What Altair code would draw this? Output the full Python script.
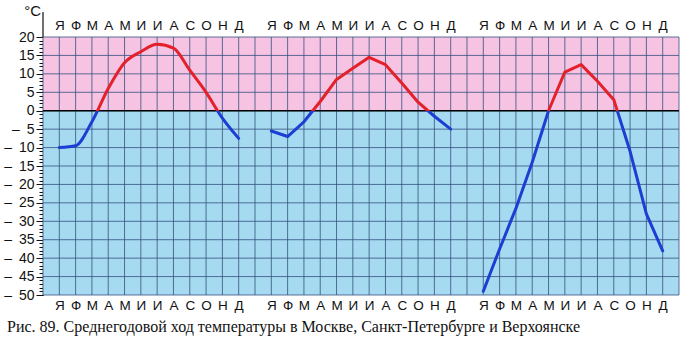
import json
import altair as alt
import pandas as pd

# ---- data ----
months = ["Я", "Ф", "М", "А", "М", "И", "И", "А", "С", "О", "Н", "Д"]
moscow = [-10, -9.5, -3, 6, 13, 16, 18, 17, 11, 5, -2, -7.5]
spb = [-5.5, -7, -3, 2.5, 8.5, 11.5, 14.5, 12.5, 7.5, 2.3, -1.5, -5]
verkh = [-49, -37.5, -26.5, -14, 0, 10.5, 12.5, 8, 3, -11, -28, -38]
cities = ["Москва", "Санкт-Петербург", "Верхоянск"]
series = [moscow, spb, verkh]
offsets = [0, 13, 26]          # grid column where each city's January sits
interp = ["monotone", "linear", "linear"]
x_domain = [-1, 38]
y_domain = [-50, 20]
y_major = list(range(-50, 25, 5))
caption = "Рис. 89. Среднегодовой ход температуры в Москве, Санкт-Петербурге и Верхоянске"
unit = "°C"
minus = "\u2013\u2002"

# ---- styling ----
W, H = 636, 258
PINK, BLUE = "#f6c3e3", "#a6daf1"
RED, DBLUE = "#e4202a", "#1d3ed2"
GRID = "#34507f"
xs = alt.Scale(domain=x_domain, nice=False, zero=False)
ys = alt.Scale(domain=y_domain, nice=False, zero=False)

month_pos = [o + i for o in offsets for i in range(12)]
label_expr = json.dumps(months) + "[datum.value % 13]"


def month_axis(orient, pad):
    return alt.Axis(orient=orient, values=month_pos, labelExpr=label_expr,
                    ticks=False, domain=False, grid=False, title=None,
                    labelFont="Liberation Sans", labelFontSize=13.5,
                    labelColor="#111", labelPadding=pad,
                    labelOverlap=False, labelFlush=False)


bands = pd.DataFrame({"x0": [x_domain[0]] * 2, "x1": [x_domain[1]] * 2,
                      "lo": [0, y_domain[0]], "hi": [y_domain[1], 0],
                      "c": [PINK, BLUE]})

y_axis = alt.Axis(values=list(range(y_domain[0], y_domain[1] + 1)),
                  labelExpr="datum.value % 5 === 0 ? (datum.value < 0 ? '" + minus + "' + (-datum.value) : '' + datum.value) : ''",
                  tickSize={"condition": {"test": "datum.value % 5 === 0", "value": 7}, "value": 4},
                  tickColor="#111", tickWidth=1, domainColor="#111", domainWidth=1.2,
                  labelFont="Liberation Sans", labelFontSize=14, labelColor="#111",
                  labelPadding=2, labelOverlap=False, labelFlush=False,
                  grid=False, title=None)

bg = alt.Chart(bands).mark_rect().encode(
    x=alt.X("x0:Q", scale=xs, axis=month_axis("top", 5)),
    x2="x1:Q",
    y=alt.Y("lo:Q", scale=ys, axis=y_axis),
    y2="hi:Q",
    color=alt.Color("c:N", scale=None),
)

vgrid = alt.Chart(pd.DataFrame({"v": list(range(x_domain[0], x_domain[1] + 1))})).mark_rule(
    color=GRID, strokeWidth=1, opacity=0.8
).encode(x=alt.X("v:Q", scale=xs, axis=month_axis("bottom", 3)))

hgrid = alt.Chart(pd.DataFrame({"v": y_major})).mark_rule(
    color=GRID, strokeWidth=1, opacity=0.8
).encode(y=alt.Y("v:Q", scale=ys, axis=None))

zero = alt.Chart(pd.DataFrame({"v": [0]})).mark_rule(color="#000", strokeWidth=1.5).encode(
    y=alt.Y("v:Q", scale=ys, axis=None))

axis_ext = alt.Chart(pd.DataFrame({"v": [0]})).mark_rule(color="#111", strokeWidth=1.2).encode(
    x=alt.value(0), y=alt.value(-25), y2=alt.value(0))

lines = []
for name, vals, off, itp in zip(cities, series, offsets, interp):
    df = pd.DataFrame({"x": [off + i for i in range(12)], "t": vals, "city": name})
    top, bot = max(vals), min(vals)
    f = top / (top - bot) if top > 0 else 0.0
    grad = alt.LinearGradient(
        gradient="linear", x1=0, y1=0, x2=0, y2=1,
        stops=[alt.GradientStop(offset=0, color=RED),
               alt.GradientStop(offset=f, color=RED),
               alt.GradientStop(offset=f, color=DBLUE),
               alt.GradientStop(offset=1, color=DBLUE)])
    lines.append(alt.Chart(df).mark_line(stroke=grad, strokeWidth=3, interpolate=itp,
                                         strokeCap="round", strokeJoin="round").encode(
        x=alt.X("x:Q", scale=xs, axis=None),
        y=alt.Y("t:Q", scale=ys, axis=None)))

unit_txt = alt.Chart(pd.DataFrame({"t": [unit]})).mark_text(
    align="right", baseline="middle", font="Liberation Sans", fontSize=15, color="#111"
).encode(x=alt.value(-2), y=alt.value(-26), text="t:N")

cap_txt = alt.Chart(pd.DataFrame({"t": [caption]})).mark_text(
    align="left", baseline="middle", font="Liberation Serif", fontSize=16, color="#111"
).encode(x=alt.value(-36), y=alt.value(290), text="t:N")

chart = alt.layer(bg, vgrid, hgrid, zero, axis_ext, *lines, unit_txt, cap_txt).resolve_axis(
    x="independent", y="independent"
).properties(
    width=W, height=H,
    padding={"left": 43, "top": 37, "right": 7, "bottom": 56},
    autosize=alt.AutoSizeParams(type="none"),
    background="white",
).configure_view(strokeWidth=0)

chart.save("out.html", embed_options={"renderer": "svg", "actions": False})
